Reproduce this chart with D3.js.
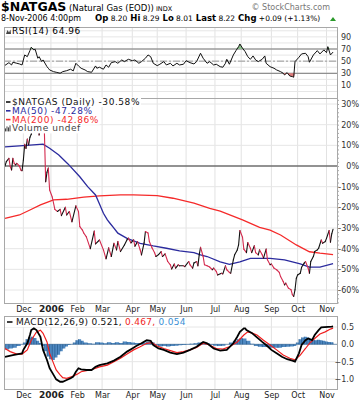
<!DOCTYPE html>
<html>
<head>
<meta charset="utf-8">
<script src="https://cdn.jsdelivr.net/npm/d3@7"></script>
<style>
  body { margin: 0; background: #fff; }
  svg { display: block; }
  text { font-family: "DejaVu Sans", Verdana, sans-serif; }
</style>
</head>
<body>
<svg id="chart" width="362" height="400"></svg>
<script>
// ---- data ----
const symbol = '$NATGAS';
const symbolName = '(Natural Gas (EOD))';
const firstSession = '2005-11-10';
const lastSession = '2006-11-08';
const holidays = ['2005-11-24', '2005-12-26', '2006-01-02', '2006-01-16', '2006-02-20',
  '2006-04-14', '2006-05-29', '2006-07-04', '2006-09-04'];
const quoteLabels = ['Op', 'Hi', 'Lo', 'Last', 'Chg'];
const quoteValues = ['8.20', '8.29', '8.01', '8.22', '+0.09 (+1.13%)'];

// [session, % change since first session]
const pricePct = [[0,0],[1,2.1],[3,3.7],[4,-0.3],[5,-1.9],[6,3.7],[7,1.3],[8,0.5],[9,1.3],[11,0],[12,-1.9],[13,-2.3],
  [14,2.9],[15,10.5],[16,8.5],[17,13.0],[18,10.2],[19,13.9],[20,15.3],[21,19],[22,23],[23,27],[24,30],[25,24],[26,15],
  [27,21],[28,26],[29,23],[30,17],[31,-7.6],[32,-3],[33,-1],[34,-11.6],[36,-15],[38,-21],[40,-22],[42,-21],[43,-24],
  [46,-20],[47,-23.7],[49,-22],[51,-27],[54,-19.3],[56,-22],[57,-29.3],[59,-31],[60,-32.4],[62,-34.3],[65,-40],
  [68,-31.5],[69,-37.7],[72,-35.8],[75,-40.6],[77,-44.9],[79,-39.6],[81,-43.8],[83,-37.4],[85,-40.6],[86,-36.5],
  [88,-41.4],[91,-38.2],[93,-35.7],[94,-34.9],[96,-37.2],[98,-35.7],[99,-38.8],[101,-36.6],[103,-40.6],[104,-43.0],
  [106,-37.2],[107,-31.7],[109,-32.4],[110,-36.5],[112,-39.6],[114,-42],[115,-43.8],[117,-42.9],[119,-41.4],
  [120,-43.8],[122,-42.5],[124,-46.2],[126,-47.8],[127,-49.8],[129,-47.4],[130,-49.4],[132,-47.8],[133,-48.3],
  [136,-48.3],[137,-48.7],[140,-46.2],[141,-47.8],[143,-49.4],[144,-46.9],[146,-46.2],[147,-48.3],[148,-43],
  [149,-39.3],[151,-43.8],[152,-47.8],[154,-48.3],[156,-48.9],[158,-50.2],[159,-49.4],[161,-51.0],[162,-52.7],
  [165,-51.9],[166,-52.2],[168,-48.3],[169,-50.2],[171,-51.5],[172,-51.9],[174,-45.4],[175,-43],[177,-40.6],
  [178,-38.2],[179,-31.2],[181,-34.5],[182,-40.2],[184,-41.9],[185,-37.0],[187,-39.8],[188,-41.9],[190,-38.6],
  [191,-41.9],[193,-43.0],[194,-40.6],[196,-43.0],[197,-44.6],[199,-40.2],[200,-45.4],[202,-47.8],[203,-47.4],
  [205,-49.4],[207,-50.2],[209,-51.5],[210,-53.5],[212,-55.9],[213,-57.5],[214,-56.7],[216,-59.1],[218,-59.9],
  [219,-62.3],[220,-63.1],[221,-59.9],[222,-54.3],[223,-52.7],[225,-51.9],[226,-49.0],[228,-47.0],[229,-46.2],
  [231,-49.4],[232,-51.9],[233,-46.2],[235,-43.8],[236,-41.4],[238,-40.6],[239,-39.8],[241,-35.8],[242,-37.4],
  [244,-36.6],[245,-35.0],[247,-31.2],[248,-36.9],[249,-32.8],[250,-30.58]];

const ma50Pct = [[0,9.3],[11,9.7],[19,10.1],[29,10.6],[34,8.6],[41,5.3],[48,1.0],[57,-5.2],[63,-10],[69,-14],
  [72,-18.4],[75,-22.9],[78,-26.1],[80,-27.7],[83,-30.1],[85,-31.7],[86,-32.5],[93,-35],[103,-37.4],[113,-38.7],
  [123,-39.8],[133,-41.1],[144,-41.9],[149,-43],[154,-43.8],[164,-46.4],[171,-47.6],[179,-46.4],[187,-44.7],
  [202,-44.7],[213,-45.4],[225,-47.4],[232,-48.9],[240,-48.9],[250,-47.28]];

const ma200Pct = [[0,-25.3],[11,-23.7],[19,-21.3],[27,-18.8],[37,-16.4],[47,-16.1],[60,-15.1],[72,-14.5],
  [88,-14.0],[98,-14.0],[116,-14.3],[128,-15.6],[144,-18.0],[156,-20.5],[164,-21.8],[181,-26.1],[194,-29.7],
  [202,-31.0],[210,-33.4],[222,-38.2],[232,-41.5],[240,-42.2],[250,-42.86]];

const rsi14 = [[0,43.1],[3,47.5],[5,43.7],[6,48.2],[9,46.5],[11,45.4],[13,43.7],[15,60.2],[17,57.4],[19,67.3],
  [20,72.9],[22,68.5],[23,69.6],[25,54.8],[26,57.4],[28,49.2],[29,52],[32,40.9],[33,38.3],[34,35.5],[37,32.7],
  [39,31.7],[42,30.1],[44,32.7],[47,34.3],[50,36.7],[52,33.9],[54,46.5],[56,42.1],[58,38.3],[61,35.5],[63,32.7],
  [66,31.7],[69,42.1],[70,38.3],[72,40],[75,36.7],[77,43.7],[79,40],[81,47.5],[84,49.2],[86,46.5],[89,52],
  [91,49.2],[94,53.1],[97,50.8],[99,52],[102,46.5],[104,49.2],[107,54.8],[109,60.2],[111,57.4],[113,46.5],
  [116,42.6],[118,44.9],[121,49.2],[123,43.7],[126,46.5],[128,42.1],[131,46.5],[133,43.7],[136,44.9],[138,50.8],
  [141,47.5],[144,45.4],[146,49.2],[149,63],[151,54.8],[154,46.5],[156,49.2],[159,43.7],[161,44.9],[164,40.9],
  [166,40],[168,46.5],[169,53.1],[171,44.9],[174,60.2],[176,67.3],[178,73.9],[179,78.3],[181,71.3],[183,65.7],
  [185,57.4],[187,53.1],[189,58.6],[191,52],[193,49.2],[196,53.1],[198,58.6],[199,46.5],[202,40.9],[205,38.3],
  [207,35.5],[210,32.7],[212,30.1],[213,27.3],[215,31.1],[217,25.6],[219,24.5],[220,23.5],[221,49.2],[224,56.4],
  [226,61.9],[229,63],[231,57.4],[232,48.2],[235,60.2],[238,67.3],[240,61.9],[243,68.5],[245,64],[246,73.9],
  [248,60.2],[250,64.96]];

const macdLine = [[0,-0.36],[6,-0.31],[10,-0.28],[13,-0.26],[14,-0.16],[17,0.03],[19,0.27],[20,0.41],[22,0.46],
  [24,0.41],[27,0.22],[29,-0.16],[32,-0.45],[34,-0.69],[37,-0.88],[39,-1.01],[42,-1.08],[44,-1.08],[47,-1.03],
  [50,-0.98],[52,-0.93],[54,-0.79],[56,-0.69],[58,-0.72],[62,-0.74],[66,-0.74],[69,-0.65],[72,-0.6],[78,-0.55],
  [83,-0.47],[88,-0.36],[93,-0.21],[97,-0.12],[100,-0.05],[104,0.03],[108,0.12],[111,0.1],[113,-0.02],[117,-0.12],
  [121,-0.16],[126,-0.24],[131,-0.28],[136,-0.24],[141,-0.16],[146,-0.07],[151,0.07],[154,0.03],[159,-0.12],
  [164,-0.18],[169,-0.16],[174,0.03],[177,0.22],[179,0.36],[182,0.46],[183,0.46],[184,0.41],[188,0.33],[192,0.2],
  [196,0.07],[199,-0.02],[203,-0.16],[207,-0.26],[211,-0.36],[215,-0.43],[219,-0.47],[221,-0.5],[224,-0.26],
  [226,-0.02],[229,0.12],[231,0.17],[234,0.12],[236,0.27],[239,0.41],[241,0.49],[249,0.51],[250,0.521]];

const macdSignal = [[0,-0.12],[4,-0.21],[9,-0.28],[13,-0.28],[17,-0.16],[20,0.12],[24,0.36],[27,0.41],[29,0.32],
  [32,0.07],[34,-0.26],[37,-0.55],[39,-0.74],[42,-0.88],[44,-0.96],[47,-0.98],[51,-0.93],[55,-0.86],[58,-0.79],
  [62,-0.76],[67,-0.72],[72,-0.65],[78,-0.6],[83,-0.5],[88,-0.4],[93,-0.28],[98,-0.16],[103,-0.07],[108,0.03],
  [112,0.05],[116,-0.05],[121,-0.12],[126,-0.18],[131,-0.24],[136,-0.21],[141,-0.16],[146,-0.09],[151,0.03],
  [156,-0.02],[161,-0.12],[166,-0.14],[171,-0.07],[177,0.07],[182,0.27],[185,0.36],[188,0.33],[192,0.27],
  [197,0.12],[202,-0.02],[207,-0.16],[212,-0.31],[217,-0.4],[221,-0.45],[225,-0.31],[229,-0.12],[232,0.03],
  [236,0.17],[240,0.3],[244,0.36],[248,0.44],[250,0.467]];

const macdHist = [[0,-0.15],[3,-0.12],[6,-0.1],[9,-0.05],[12,0.0],[14,0.05],[16,0.15],[18,0.2],[20,0.22],
  [22,0.18],[24,0.1],[26,0.04],[28,-0.05],[30,-0.2],[32,-0.35],[34,-0.43],[36,-0.45],[38,-0.38],[40,-0.3],
  [42,-0.2],[44,-0.12],[46,-0.06],[48,-0.02],[50,0.0],[52,0.05],[54,0.12],[56,0.15],[58,0.1],[60,0.05],[63,0.03],
  [66,0.02],[69,0.06],[72,0.05],[75,0.03],[78,0.06],[81,0.04],[84,0.06],[87,0.04],[90,0.08],[93,0.07],[96,0.05],
  [99,0.04],[102,0.03],[105,0.05],[108,0.08],[111,0.06],[114,-0.03],[117,-0.06],[120,-0.05],[123,-0.06],
  [126,-0.05],[129,-0.04],[132,-0.03],[135,-0.02],[138,0.01],[141,0.02],[144,0.03],[147,0.05],[150,0.06],
  [153,0.04],[156,-0.01],[159,-0.04],[162,-0.05],[165,-0.04],[168,0.0],[171,0.05],[174,0.1],[177,0.15],[179,0.18],
  [181,0.17],[184,0.1],[187,0.02],[190,-0.05],[193,-0.07],[196,-0.08],[199,-0.08],[202,-0.1],[205,-0.1],
  [208,-0.1],[211,-0.08],[214,-0.07],[217,-0.06],[220,-0.05],[222,0.05],[224,0.15],[226,0.2],[228,0.22],
  [230,0.2],[232,0.16],[234,0.13],[236,0.12],[238,0.13],[240,0.12],[242,0.1],[244,0.08],[246,0.07],[248,0.06],
  [250,0.054]];

const rsiTicks = [10, 30, 50, 70, 90];
const priceTicks = [-60, -50, -40, -30, -20, -10, 0, 10, 20, 30];
const macdTicks = [-1.0, -0.5, 0.0, 0.5];

// ---- trading calendar ----
const parse = d3.timeParse('%Y-%m-%d');
const iso = d3.timeFormat('%Y-%m-%d');
const sessions = d3.timeDay.range(parse(firstSession), d3.timeDay.offset(parse(lastSession), 1))
  .filter(d => d.getDay() !== 0 && d.getDay() !== 6 && !holidays.includes(iso(d)));
const monthStarts = sessions.map((d, i) => i)
  .filter(i => i > 0 && sessions[i].getMonth() !== sessions[i - 1].getMonth());
const monthLabel = i => sessions[i].getMonth() === 0 ? d3.timeFormat('%Y')(sessions[i]) : d3.timeFormat('%b')(sessions[i]);

// ---- layout ----
const svg = d3.select('#chart');
const L = 4, R = 337;
const rsiBox = { top: 27, bottom: 98 };
const priceBox = { top: 98, bottom: 303 };
const macdBox = { top: 316, bottom: 389 };

const x = d3.scaleLinear().domain([0, sessions.length + 2]).range([5, R]);
const yRsi = d3.scaleLinear().domain([0, 100]).range([91.5, 30.8]);
const yPx = d3.scaleLinear().domain([-60, 0]).range([290, 166]);
const yMacd = d3.scaleLinear().domain([-1, 0.5]).range([379, 327]);

const RED = '#d42a4e', BLUE = '#2b2b9e', MA200 = '#f52a2a';
const LABEL_SIZE = 9, LABEL_SPACING = 0.55;

function makePanel(box, id) {
  svg.append('clipPath').attr('id', id)
    .append('rect').attr('x', L).attr('y', box.top).attr('width', R - L).attr('height', box.bottom - box.top);
  const g = svg.append('g');
  // month grid
  g.selectAll('line.v').data(monthStarts).join('line')
    .attr('x1', d => x(d)).attr('x2', d => x(d))
    .attr('y1', box.top).attr('y2', box.bottom)
    .attr('stroke', '#e2e2e2').attr('stroke-width', 1);
  const plot = svg.append('g').attr('clip-path', `url(#${id})`);
  return { g, plot };
}

function frame(box) {
  svg.append('rect').attr('x', L + 0.5).attr('y', box.top + 0.5)
    .attr('width', R - L).attr('height', box.bottom - box.top)
    .attr('fill', 'none').attr('stroke', '#a8a8a8');
}

// ---- header ----
const head = svg.append('text').attr('x', 1).attr('y', 11);
head.append('tspan').text(symbol).attr('font-weight', 'bold').attr('font-size', 12.5);
head.append('tspan').text(' ' + symbolName).attr('font-size', 8.5);
head.append('tspan').text('  INDX').attr('font-size', 6.5);
svg.append('text').attr('x', 330).attr('y', 10).attr('text-anchor', 'end')
  .attr('font-size', 8).attr('fill', '#777').text('\u00a9 StockCharts.com');

const fmtDate = d3.timeFormat('%-d-%b-%Y');
svg.append('text').attr('x', 1).attr('y', 21).attr('font-size', 8)
  .text(fmtDate(sessions[sessions.length - 1]) + ' 4:00pm');
const quote = svg.append('text').attr('x', 95).attr('y', 21);
quoteLabels.forEach((lab, i) => {
  quote.append('tspan').text((i ? '  ' : '') + lab).attr('font-weight', 'bold').attr('font-size', 8.5);
  quote.append('tspan').text(' ' + quoteValues[i]).attr('font-size', 7.5);
});
svg.append('path').attr('d', 'M330,21 L333,17 L336,21 Z').attr('fill', '#2a9a2a');

// ---- RSI panel ----
const rsi = makePanel(rsiBox, 'clipRsi');
rsi.g.selectAll('line.h').data(d3.range(0, 101, 10)).join('line')
  .attr('x1', L).attr('x2', R).attr('y1', d => yRsi(d)).attr('y2', d => yRsi(d))
  .attr('stroke', '#e6e6e6');
[30, 70].forEach(v => rsi.g.append('line').attr('x1', L).attr('x2', R)
  .attr('y1', yRsi(v)).attr('y2', yRsi(v)).attr('stroke', '#777'));
rsi.g.append('line').attr('x1', L).attr('x2', R).attr('y1', yRsi(50)).attr('y2', yRsi(50))
  .attr('stroke', '#999').attr('stroke-dasharray', '7,2,2,2');
rsi.plot.append('path').datum(rsi14)
  .attr('d', d3.area().x(d => x(d[0])).y0(yRsi(30)).y1(d => yRsi(Math.min(d[1], 30))))
  .attr('fill', '#e07b7b');
rsi.plot.append('path').datum(rsi14)
  .attr('d', d3.area().x(d => x(d[0])).y0(yRsi(70)).y1(d => yRsi(Math.max(d[1], 70))))
  .attr('fill', '#8cbf8c');
rsi.plot.append('path').datum(rsi14)
  .attr('d', d3.line().x(d => x(d[0])).y(d => yRsi(d[1])))
  .attr('fill', 'none').attr('stroke', '#111').attr('stroke-width', 1);
frame(rsiBox);
svg.append('g').attr('transform', `translate(${R},0)`)
  .call(d3.axisRight(yRsi).tickValues(rsiTicks).tickSize(0).tickPadding(4))
  .call(a => a.select('.domain').remove())
  .call(a => a.selectAll('text').attr('font-size', 8).attr('fill', '#333').attr('font-family', null));
svg.append('path').attr('d', 'M6,34 L7.5,30 L9,32.5 L10.5,29.5 L11,34 Z').attr('fill', '#444');
svg.append('text').attr('x', 12).attr('y', 34).attr('font-size', LABEL_SIZE).attr('letter-spacing', LABEL_SPACING)
  .text('RSI(14) ' + rsi14[rsi14.length - 1][1].toFixed(2));

// ---- price panel ----
const px = makePanel(priceBox, 'clipPx');
px.g.selectAll('line.h').data(priceTicks).join('line')
  .attr('x1', L).attr('x2', R).attr('y1', d => yPx(d)).attr('y2', d => yPx(d))
  .attr('stroke', d => d === 0 ? '#6e6e6e' : '#e6e6e6').attr('stroke-width', d => d === 0 ? 1.3 : 1);
const lineFn = d3.line().x(d => x(d[0]));
px.plot.append('path').datum(ma200Pct)
  .attr('d', lineFn.y(d => yPx(d[1]))).attr('fill', 'none').attr('stroke', MA200).attr('stroke-width', 1.3);
px.plot.append('path').datum(ma50Pct)
  .attr('d', lineFn.y(d => yPx(d[1]))).attr('fill', 'none').attr('stroke', BLUE).attr('stroke-width', 1.3);
const segs = d3.pairs(pricePct);
px.plot.selectAll('line.seg').data(segs).join('line')
  .attr('x1', d => x(d[0][0])).attr('y1', d => yPx(d[0][1]))
  .attr('x2', d => x(d[1][0])).attr('y2', d => yPx(d[1][1]))
  .attr('stroke', d => d[1][1] >= d[0][1] ? '#111' : RED)
  .attr('stroke-width', 1.1).attr('stroke-linecap', 'round');
frame(priceBox);
svg.append('g').attr('transform', `translate(${R},0)`)
  .call(d3.axisRight(yPx).tickValues(d3.range(-66, 33, 2)).tickSize(2).tickFormat(''))
  .call(a => a.select('.domain').remove())
  .call(a => a.selectAll('line').attr('stroke', '#aaa'));
svg.append('g').attr('transform', `translate(${R},0)`)
  .call(d3.axisRight(yPx).tickValues(priceTicks).tickSize(0).tickFormat(d => d + '%'))
  .call(a => a.select('.domain').remove())
  .call(a => a.selectAll('text').attr('x', 22).attr('text-anchor', 'end')
    .attr('font-size', 8).attr('fill', '#333').attr('font-family', null));

// legend rows with white backing
const legendRows = [
  { label: symbol + ' (Daily) ' + pricePct[pricePct.length - 1][1].toFixed(2) + '%', color: '#111', mark: 'line' },
  { label: 'MA(50) ' + ma50Pct[ma50Pct.length - 1][1].toFixed(2) + '%', color: BLUE, mark: 'line' },
  { label: 'MA(200) ' + ma200Pct[ma200Pct.length - 1][1].toFixed(2) + '%', color: MA200, mark: 'line' },
  { label: 'Volume undef', color: '#444', mark: 'bars' }
];
legendRows.forEach((r, i) => {
  const y0 = 105 + i * 8.8;
  const t = svg.append('text').attr('x', 12).attr('y', y0).attr('font-size', LABEL_SIZE)
    .attr('letter-spacing', LABEL_SPACING).attr('fill', r.color).text(r.label);
  const bb = t.node().getBBox();
  svg.insert('rect', () => t.node()).attr('x', 5).attr('y', bb.y + 0.5).attr('width', bb.x + bb.width - 4)
    .attr('height', bb.height - 0.5).attr('fill', '#fff');
  if (r.mark === 'line') {
    svg.append('line').attr('x1', 6).attr('x2', 10.5).attr('y1', y0 - 3).attr('y2', y0 - 3)
      .attr('stroke', r.color).attr('stroke-width', 1.6);
  } else {
    [[6, 3], [7.5, 5], [9, 4], [10.5, 6]].forEach(b => svg.append('rect')
      .attr('x', b[0] - 1).attr('y', y0 - b[1]).attr('width', 1).attr('height', b[1]).attr('fill', r.color));
  }
});

function monthAxis(yPos) {
  svg.append('g').attr('transform', `translate(0,${yPos})`)
    .call(d3.axisBottom(x).tickValues(monthStarts).tickSize(0).tickPadding(0).tickFormat(monthLabel))
    .call(a => a.select('.domain').remove())
    .call(a => a.selectAll('text').attr('dy', 0).attr('y', 0)
      .attr('fill', '#222').attr('font-family', null)
      .attr('font-weight', d => sessions[d].getMonth() === 0 ? 'bold' : null)
      .attr('font-size', d => sessions[d].getMonth() === 0 ? 9 : 8));
}
monthAxis(312);

// ---- MACD panel ----
const macd = makePanel(macdBox, 'clipMacd');
macd.g.selectAll('line.h').data(macdTicks).join('line')
  .attr('x1', L).attr('x2', R).attr('y1', d => yMacd(d)).attr('y2', d => yMacd(d))
  .attr('stroke', '#e6e6e6');
macd.plot.append('path').datum(macdHist)
  .attr('d', d3.area().curve(d3.curveStepAfter).x(d => x(d[0])).y0(yMacd(0)).y1(d => yMacd(d[1])))
  .attr('fill', '#4f89c2');
macd.plot.selectAll('line.hb').data(macdHist).join('line')
  .attr('x1', d => x(d[0])).attr('x2', d => x(d[0]))
  .attr('y1', yMacd(0)).attr('y2', d => yMacd(d[1]))
  .attr('stroke', '#24578a').attr('stroke-width', 0.7);
macd.plot.append('line').attr('x1', L).attr('x2', R).attr('y1', yMacd(0)).attr('y2', yMacd(0))
  .attr('stroke', '#2e5f91').attr('stroke-width', 0.6);
macd.plot.append('path').datum(macdSignal)
  .attr('d', d3.line().x(d => x(d[0])).y(d => yMacd(d[1])))
  .attr('fill', 'none').attr('stroke', '#f01e1e').attr('stroke-width', 1.2);
macd.plot.append('path').datum(macdLine)
  .attr('d', d3.line().x(d => x(d[0])).y(d => yMacd(d[1])))
  .attr('fill', 'none').attr('stroke', '#000').attr('stroke-width', 1.8);
frame(macdBox);
svg.append('g').attr('transform', `translate(${R},0)`)
  .call(d3.axisRight(yMacd).tickValues(macdTicks).tickSize(0).tickFormat(d3.format('.1f')))
  .call(a => a.select('.domain').remove())
  .call(a => a.selectAll('text').attr('x', 17).attr('text-anchor', 'end')
    .attr('font-size', 8).attr('fill', '#333').attr('font-family', null));

const lastOf = arr => arr[arr.length - 1][1].toFixed(3);
const mlab = svg.append('text').attr('x', 16).attr('y', 325).attr('font-size', LABEL_SIZE)
  .attr('letter-spacing', 0.3);
mlab.append('tspan').text('MACD(12,26,9) ' + lastOf(macdLine) + ',').attr('fill', '#111');
mlab.append('tspan').text(' ' + lastOf(macdSignal) + ',').attr('fill', '#f01e1e');
mlab.append('tspan').text(' ' + lastOf(macdHist)).attr('fill', '#3a8fd6');
const mbb = mlab.node().getBBox();
svg.insert('rect', () => mlab.node()).attr('x', 5).attr('y', mbb.y + 0.5).attr('width', mbb.x + mbb.width - 4)
  .attr('height', mbb.height - 0.5).attr('fill', '#fff');
svg.append('line').attr('x1', 7).attr('x2', 12.5).attr('y1', 322).attr('y2', 322)
  .attr('stroke', '#111').attr('stroke-width', 1.6);

monthAxis(398);
</script>
</body>
</html>
